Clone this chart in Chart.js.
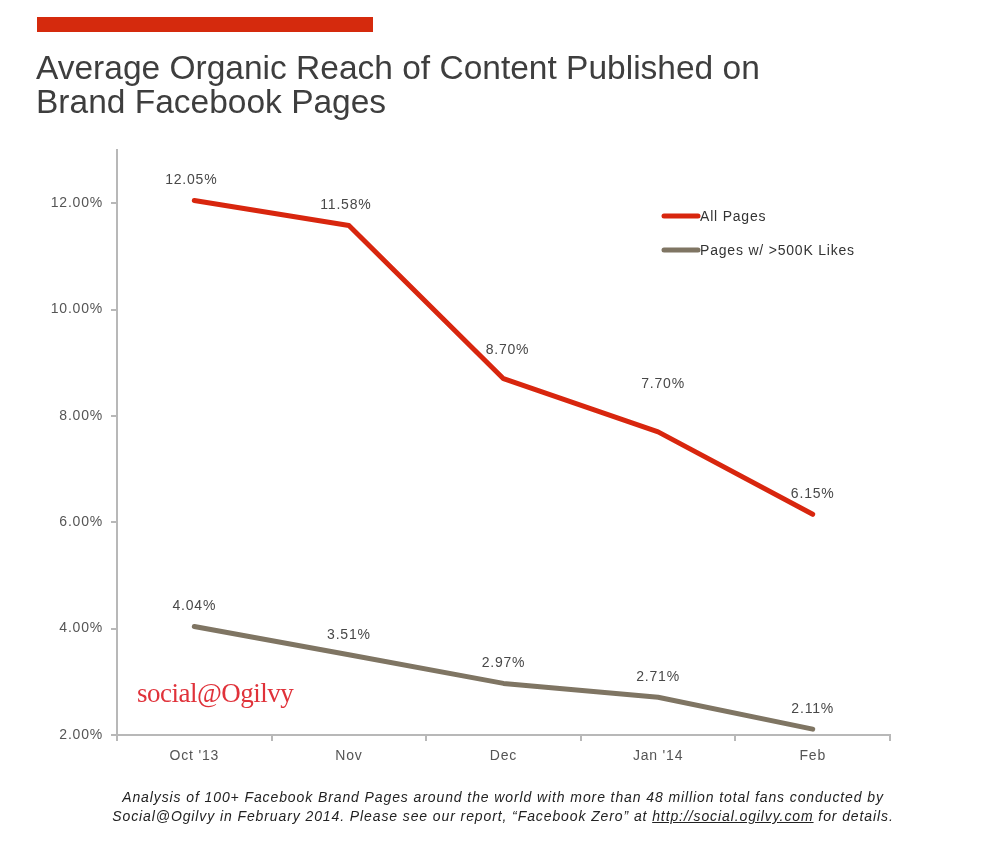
<!DOCTYPE html>
<html>
<head>
<meta charset="utf-8">
<script src="https://cdn.jsdelivr.net/npm/chart.js@4"></script>
<style>
    body { margin: 0; background: #fff; }
    #wrap { position: relative; width: 998px; height: 854px; overflow: hidden; }
    #bar { position: absolute; left: 37px; top: 17px; width: 336px; height: 15px; background: #d52a0d; }
    #title { position: absolute; left: 36px; top: 51px; font: 33.5px "Liberation Sans", Arial, sans-serif; line-height: 34px; color: #3e3e3e; }
    #logo { position: absolute; left: 137px; top: 678px; font: 27px "Liberation Serif", "Times New Roman", serif; color: #e0323a; letter-spacing: -0.5px; }
    #note { position: absolute; left: 0; width: 1006px; top: 788px; text-align: center; font: italic 14px "Liberation Sans", Arial, sans-serif; letter-spacing: 0.9px; line-height: 19px; color: #222; }
    #note a { color: #222; }
    canvas { position: absolute; left: 0; top: 0; }
</style>
</head>
<body>
<div id="wrap">
    <canvas id="reachChart" width="998" height="854"></canvas>
    <div id="bar"></div>
    <div id="title">Average Organic Reach of Content Published on<br>Brand Facebook Pages</div>
    <div id="logo">social@Ogilvy</div>
    <div id="note">Analysis of 100+ Facebook Brand Pages around the world with more than 48 million total fans conducted by<br>Social@Ogilvy in February 2014. Please see our report, “Facebook Zero” at <a href="#">http://social.ogilvy.com</a> for details.</div>
</div>
<script>
const months = ["Oct '13", 'Nov', 'Dec', "Jan '14", 'Feb'];
const allPages = [12.05, 11.58, 8.70, 7.70, 6.15];
const bigPages = [4.04, 3.51, 2.97, 2.71, 2.11];
const yTicks = [2, 4, 6, 8, 10, 12];

const axisGrey = '#b8b8b8';
const labelFont = { family: '"Liberation Sans", Arial, sans-serif', size: 14 };

// the source picture is a bit wide, so space the letters out
const spacing = {
    id: 'spacing',
    beforeDraw(chart) {
        chart.ctx.letterSpacing = '0.8px';
    }
};

// value labels above each point
const valueLabels = {
    id: 'valueLabels',
    afterDatasetsDraw(chart, args, opts) {
        const ctx = chart.ctx;
        ctx.save();
        ctx.font = '14px "Liberation Sans", Arial, sans-serif';
        ctx.fillStyle = '#484848';
        ctx.textAlign = 'center';
        ctx.textBaseline = 'middle';
        chart.data.datasets.forEach((ds, i) => {
            const nudge = opts.nudge[i] || [];
            chart.getDatasetMeta(i).data.forEach((pt, j) => {
                const n = nudge[j] || [0, 0];
                ctx.fillText(ds.data[j].toFixed(2) + '%', pt.x + n[0], pt.y - 20 + n[1]);
            });
        });
        ctx.restore();
    }
};

// legend drawn inside the plot
const innerLegend = {
    id: 'innerLegend',
    afterDraw(chart, args, opts) {
        const ctx = chart.ctx;
        ctx.save();
        ctx.font = '14px "Liberation Sans", Arial, sans-serif';
        ctx.textBaseline = 'middle';
        chart.data.datasets.forEach((ds, i) => {
            const y = opts.y + i * opts.gap;
            ctx.strokeStyle = ds.borderColor;
            ctx.lineWidth = 5;
            ctx.lineCap = 'round';
            ctx.beginPath();
            ctx.moveTo(opts.x, y);
            ctx.lineTo(opts.x + 34, y);
            ctx.stroke();
            ctx.fillStyle = '#333';
            ctx.fillText(ds.label, opts.x + 36, y + 1);
        });
        ctx.restore();
    }
};

const ctx = document.getElementById('reachChart').getContext('2d');
new Chart(ctx, {
    type: 'line',
    data: {
        labels: months,
        datasets: [
            {
                label: 'All Pages',
                data: allPages,
                borderColor: '#d8260e',
                borderWidth: 5,
                borderCapStyle: 'round',
                borderJoinStyle: 'round',
                pointRadius: 0,
                fill: false
            },
            {
                label: 'Pages w/ >500K Likes',
                data: bigPages,
                borderColor: '#7f7563',
                borderWidth: 5,
                borderCapStyle: 'round',
                borderJoinStyle: 'round',
                pointRadius: 0,
                fill: false
            }
        ]
    },
    options: {
        responsive: false,
        animation: false,
        layout: { padding: { top: 150, right: 108, bottom: 0, left: 0 } },
        scales: {
            x: {
                offset: true,
                afterFit: s => { s.height = 119; },
                border: { color: axisGrey, width: 2 },
                grid: { offset: true, drawOnChartArea: false, drawTicks: true, tickLength: 6, color: axisGrey, lineWidth: 2 },
                ticks: { color: '#555', font: labelFont, padding: 7 }
            },
            y: {
                min: 2,
                max: 13,
                afterFit: s => { s.width = 117; },
                afterBuildTicks: s => { s.ticks = yTicks.map(v => ({ value: v })); },
                border: { color: axisGrey, width: 2 },
                grid: { drawOnChartArea: false, drawTicks: true, tickLength: 6, color: axisGrey, lineWidth: 2 },
                ticks: { color: '#555', font: labelFont, padding: 8, callback: v => v.toFixed(2) + '%' }
            }
        },
        plugins: {
            legend: { display: false },
            tooltip: { enabled: false },
            valueLabels: { nudge: [[[-3, 0], [-3, 0], [4, -9], [5, -28], [0, 0]], []] },
            innerLegend: { x: 664, y: 216, gap: 34 }
        }
    },
    plugins: [spacing, valueLabels, innerLegend]
});
</script>
</body>
</html>
